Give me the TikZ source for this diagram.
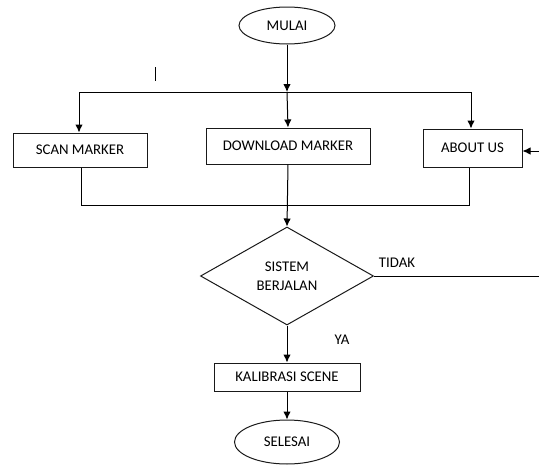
\documentclass[tikz,border=0pt]{standalone}
\usepackage{fontspec}
\setmainfont{Carlito}
\usetikzlibrary{shapes.geometric,arrows.meta}
\begin{document}
\begin{tikzpicture}[x=1pt,y=-1pt,
  every node/.style={font=\fontsize{14.8}{18}\selectfont, inner sep=0pt},
  ln/.style={draw=black, line width=1pt},
  arr/.style={ln, -{Latex[width=7.5pt,length=8pt,fill=black]}},
  boxn/.style={draw=black!90, line width=1pt, rectangle},
  ovaln/.style={draw=black!90, line width=1pt, ellipse},
  decn/.style={draw=black!90, line width=1pt, diamond, align=center}]
\useasboundingbox (0,0) rectangle (539,466);
% nodes
\node[ovaln, minimum width=96pt, minimum height=37pt] (mulai) at (287,25.5) {MULAI};
\node[boxn, minimum width=134pt, minimum height=34pt] (scan) at (80,150) {SCAN MARKER};
\node[boxn, minimum width=164pt, minimum height=36pt] (down) at (288,146) {DOWNLOAD MARKER};
\node[boxn, minimum width=99pt, minimum height=38pt] (about) at (472.5,148) {ABOUT US};
\node[decn, minimum width=173pt, minimum height=98pt, aspect=1.77] (dec) at (287,276) {SISTEM\\[1pt]BERJALAN};
\node[boxn, minimum width=146pt, minimum height=28pt] (kal) at (287,377) {KALIBRASI SCENE};
\node[ovaln, minimum width=105pt, minimum height=44pt] (sel) at (287,442) {SELESAI};
\node (tidak) at (397,263) {TIDAK};
\node (ya) at (342,340) {YA};
% coordinates
\coordinate (tl) at (79,92);
\coordinate (tm) at (287,92);
\coordinate (tr) at (471,92);
\coordinate (bl) at (81,205);
\coordinate (bm) at (287,205);
\coordinate (br) at (469,205);
\coordinate (rin) at (539,151);
\coordinate (rout) at (539,276);
\coordinate (m1) at (155,67);
\coordinate (m2) at (155,81);
% connectors
\draw[arr] (mulai) -- (tm);
\draw[ln] (tl) -- (tr);
\draw[arr] (tl) -- (tl |- scan.north);
\draw[arr] (tm) -- (down.north);
\draw[arr] (tr) -- (tr |- about.north);
\draw[ln] (bl |- scan.south) -- (bl) -- (br) -- (br |- about.south);
\draw[arr] (down.south) -- (dec.north);
\draw[arr] (rin) -- (rin -| about.east);
\draw[ln] (dec.east) -- (rout);
\draw[arr] (dec.south) -- (kal.north);
\draw[arr] (kal.south) -- (sel.north);
\draw[ln] (m1) -- (m2);
\end{tikzpicture}
\end{document}
